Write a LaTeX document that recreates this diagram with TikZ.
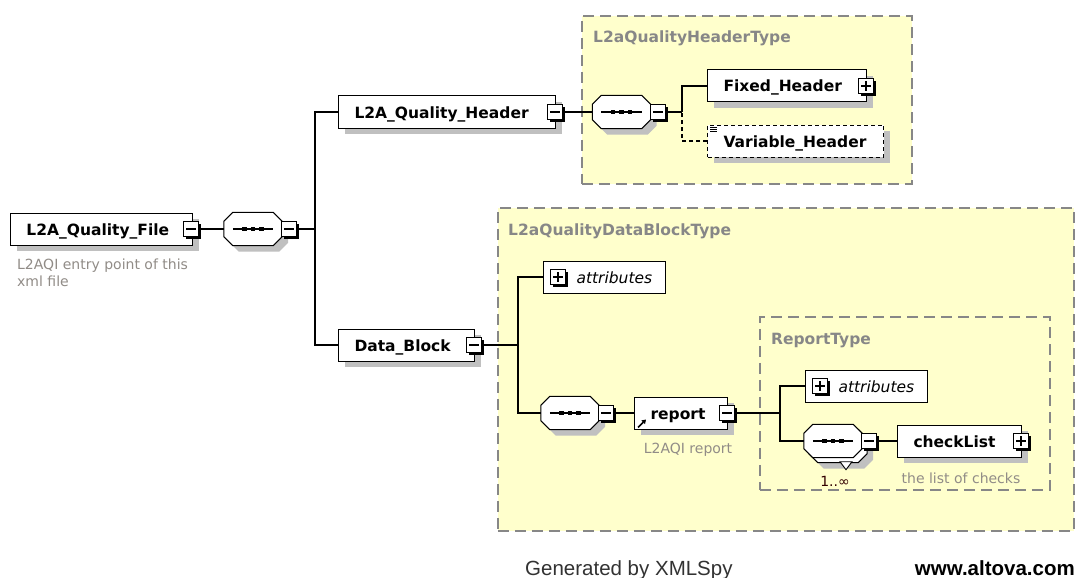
\documentclass[tikz,border=0pt]{standalone}
\usepackage{fontspec}
\setmainfont{DejaVu Sans}
\newfontfamily\footfont{Liberation Sans}
\usetikzlibrary{shadows,arrows.meta}
\definecolor{ybg}{RGB}{255,255,204}
\definecolor{bordergray}{RGB}{135,135,135}
\definecolor{shadowgray}{RGB}{192,192,192}
\definecolor{titlegray}{RGB}{135,135,135}
\definecolor{descgray}{RGB}{145,140,135}
\definecolor{footgray}{RGB}{50,50,50}
\newcommand\lb[2]{\makebox[#1pt][l]{#2}}
\newcommand\octpath[3]{([xshift=#2pt+9pt,yshift=#3pt]#1.north west) -- ([xshift=#2pt-9pt,yshift=#3pt]#1.north east) -- ([xshift=#2pt,yshift=#3pt-9pt]#1.north east) -- ([xshift=#2pt,yshift=#3pt+9pt]#1.south east) -- ([xshift=#2pt-9pt,yshift=#3pt]#1.south east) -- ([xshift=#2pt+9pt,yshift=#3pt]#1.south west) -- ([xshift=#2pt,yshift=#3pt+9pt]#1.south west) -- ([xshift=#2pt,yshift=#3pt-9pt]#1.north west) -- cycle}
\newcommand\compdots[1]{%
  \draw[line width=1.2pt] ([xshift=9pt]#1.west) -- ([xshift=-9pt]#1.east);
  \foreach \dx in {-8.5,0,8.5} {\fill ([xshift={\dx*1pt-2.3pt},yshift=-2.3pt]#1.center) rectangle ([xshift={\dx*1pt+2.3pt},yshift=2.3pt]#1.center);}}
\newcommand\compdraw[1]{%
  \fill[shadowgray] \octpath{#1}{6}{-6};
  \draw[line width=1pt, fill=white] \octpath{#1}{0}{0};
  \compdots{#1}}
\newcommand\compmulti[1]{%
  \fill[shadowgray] \octpath{#1}{11}{-11};
  \draw[line width=1pt, fill=white] \octpath{#1}{5}{-5};
  \draw[line width=0.9pt, fill=white] ([xshift=7pt,yshift=-4pt]#1.south) -- ([xshift=19pt,yshift=-4pt]#1.south) -- ([xshift=13pt,yshift=-12pt]#1.south) -- cycle;
  \draw[line width=1pt, fill=white] \octpath{#1}{0}{0};
  \compdots{#1}}
\tikzset{
  conn/.style={line width=1.1pt},
  typearea/.style={draw=bordergray, fill=ybg, line width=1.6pt, dash pattern=on 11pt off 6pt, inner sep=0pt, anchor=north west},
  typeframe/.style={draw=bordergray, line width=1.6pt, dash pattern=on 11pt off 6pt, inner sep=0pt, anchor=north west},
  typetitle/.style={text=titlegray, font=\bfseries\fontsize{15.5}{18}\selectfont, inner sep=0pt, anchor=base west},
  elem/.style={draw, line width=1pt, fill=white, font=\bfseries\fontsize{15.5}{18}\selectfont, minimum height=32pt, inner xsep=16pt, inner ysep=0pt, text height=12pt, text depth=0pt, anchor=west, drop shadow={shadow xshift=6pt, shadow yshift=-6pt, fill=shadowgray, opacity=1}},
  attrbox/.style={draw, line width=1pt, fill=white, font=\itshape\fontsize{15.5}{18}\selectfont, minimum height=32pt, inner sep=0pt, text height=12pt, text depth=0pt, anchor=west},
  pmbox/.style={draw, line width=1.1pt, fill=white, minimum size=15pt, inner sep=0pt, drop shadow={shadow xshift=2.5pt, shadow yshift=-2.5pt, fill=black, opacity=1}},
  minusbox/.style={pmbox, path picture={\draw[line width=1.1pt] ([xshift=2.5pt]path picture bounding box.west) -- ([xshift=-2.5pt]path picture bounding box.east);}},
  plusbox/.style={pmbox, path picture={\draw[line width=1.1pt] ([xshift=2.5pt]path picture bounding box.west) -- ([xshift=-2.5pt]path picture bounding box.east); \draw[line width=1.1pt] ([yshift=-2.5pt]path picture bounding box.north) -- ([yshift=2.5pt]path picture bounding box.south);}},
  compbox/.style={minimum width=58pt, minimum height=33pt, inner sep=0pt},
  desc/.style={text=descgray, font=\fontsize{14}{17}\selectfont, inner sep=0pt},
}
\begin{document}
\begin{tikzpicture}[x=1pt,y=-1pt]
\path[use as bounding box, fill=white] (0,0) rectangle (1077,578);

% type areas
\node[typearea, minimum width=330pt, minimum height=168pt] (hdrT) at (581,15) {};
\node[typetitle] (hdrTt) at (593,43) {L2aQualityHeaderType};
\node[typearea, minimum width=576pt, minimum height=323pt] (dbT) at (497,207) {};
\node[typetitle] (dbTt) at (508,235) {L2aQualityDataBlockType};
\node[typeframe, minimum width=290pt, minimum height=173pt] (rT) at (759,316) {};
\node[typetitle] (rTt) at (771,344) {ReportType};

% root element
\node[elem] (file) at (10,229) {\lb{150}{L2A\_Quality\_File}};
\node[minusbox] (fileM) at ([xshift=-2pt]file.east) {};
\node[desc, anchor=north west, align=left] (fileD) at (17,259) {L2AQI entry point of this\\xml file};

\node[compbox] (comp1) at (253,229) {};
\compdraw{comp1}
\node[minusbox, anchor=west] (comp1M) at ([xshift=-1pt]comp1.east) {};

\node[elem] (header) at (338,112) {\lb{185}{L2A\_Quality\_Header}};
\node[minusbox] (headerM) at ([xshift=-1pt]header.east) {};
\node[elem] (datab) at (338,345) {\lb{104}{Data\_Block}};
\node[minusbox] (databM) at ([xshift=-1pt]datab.east) {};

% header type
\node[compbox] (comp2) at (621.5,112) {};
\compdraw{comp2}
\node[minusbox, anchor=west] (comp2M) at ([xshift=-1pt]comp2.east) {};
\node[elem] (fixed) at (707,86) {\lb{127}{Fixed\_Header}};
\node[plusbox] (fixedP) at ([xshift=-1pt]fixed.east) {};
\node[elem, dash pattern=on 4pt off 3pt] (variable) at (707,141) {\lb{144}{Variable\_Header}};
\foreach \yy in {-2.5,-4.5,-6.5} {\draw[line width=0.8pt] ([xshift=3pt,yshift=\yy pt]variable.north west) -- ([xshift=10pt,yshift=\yy pt]variable.north west);}

% data block type
\node[attrbox] (attr1) at (543,277) {\makebox[122pt][l]{\hspace{33pt}attributes}};
\node[plusbox] (attr1P) at ([xshift=15pt]attr1.west) {};
\node[compbox] (comp3) at (570,413) {};
\compdraw{comp3}
\node[minusbox, anchor=west] (comp3M) at ([xshift=-1pt]comp3.east) {};
\node[elem] (report) at (634,413) {\lb{61}{report}};
\node[minusbox] (reportM) at ([xshift=-1pt]report.east) {};
\draw[line width=1.6pt, -{Triangle[length=4pt,width=5pt]}] ([xshift=4pt,yshift=2pt]report.south west) -- ([xshift=12pt,yshift=10pt]report.south west);
\node[desc] (reportD) at (688,450) {L2AQI report};

% report type
\node[attrbox] (attr2) at (805,386) {\makebox[122pt][l]{\hspace{33pt}attributes}};
\node[plusbox] (attr2P) at ([xshift=15pt]attr2.west) {};
\node[compbox] (comp4) at (833,441) {};
\compmulti{comp4}
\node[minusbox, anchor=west] (comp4M) at ([xshift=-1pt]comp4.east) {};
\node[desc, text=black!80!red] (comp4N) at (835,481) {1..∞};
\node[elem] (check) at (897,441) {\lb{92}{checkList}};
\node[plusbox] (checkP) at ([xshift=-1pt]check.east) {};
\node[desc] (checkD) at (961,478) {the list of checks};

% connectors
\coordinate (j1) at (315,229);
\coordinate (j2) at (682,112);
\coordinate (j3) at (518,345);
\coordinate (j4) at (780,413);
\draw[conn] (fileM.east) -- (comp1.west);
\draw[conn] (comp1M.east) -- (j1);
\draw[conn] (header.west) -| (j1);
\draw[conn] (datab.west) -| (j1);
\draw[conn] (headerM.east) -- (comp2.west);
\draw[conn] (comp2M.east) -- (j2);
\draw[conn] (fixed.west) -| (j2);
\draw[conn, dash pattern=on 4pt off 3pt] (variable.west) -| (j2);
\draw[conn] (databM.east) -- (j3);
\draw[conn] (attr1.west) -| (j3);
\draw[conn] (comp3.west) -| (j3);
\draw[conn] (comp3M.east) -- (report.west);
\draw[conn] (reportM.east) -- (j4);
\draw[conn] (attr2.west) -| (j4);
\draw[conn] (comp4.west) -| (j4);
\draw[conn] (comp4M.east) -- (check.west);

% footer
\node[font=\footfont\fontsize{20.5}{24}\selectfont, text=footgray, anchor=base west, inner sep=0pt] (gen) at (525,575) {Generated by XMLSpy};
\node[font=\footfont\bfseries\fontsize{20.5}{24}\selectfont, text=black, anchor=base east, inner sep=0pt] (www) at (1075,575) {www.altova.com};
\end{tikzpicture}
\end{document}
